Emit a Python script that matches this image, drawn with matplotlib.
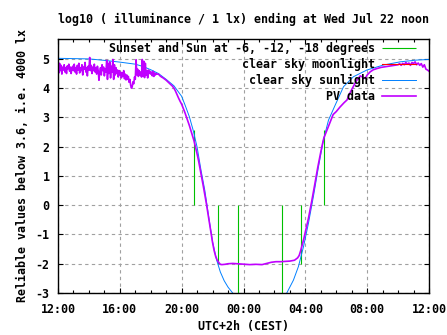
import numpy as np
import matplotlib
matplotlib.use("Agg")
import matplotlib.pyplot as plt
from matplotlib.ticker import MultipleLocator

plt.rcParams['font.family'] = 'DejaVu Sans Mono'
plt.rcParams['font.weight'] = 'bold'
plt.rcParams['font.size'] = 8.4
plt.rcParams['axes.unicode_minus'] = False

# time axis: hours after Tuesday noon
tick_hours = [0, 4, 8, 12, 16, 20, 24]
tick_labels = ['12:00', '16:00', '20:00', '00:00', '04:00', '08:00', '12:00']

# sunset, sun at -6, -12 deg (evening), then -12, -6, sunrise (morning)
sun_hours = [8.80, 10.38, 11.67, 14.46, 15.69, 17.22]
sun_marks = [2.58, -2.0, -3.0, -3.0, -2.0, 2.58]

# no moonlight during this night
moon_hours = []
moon_lux = []

# clear sky sunlight, log10(lx)
clear_hours = [0.0, 1.0, 2.0, 3.0, 4.0, 5.0, 5.5, 6.0, 6.5, 7.0, 7.5, 8.0,
               8.25, 8.5, 8.75, 9.0, 9.25, 9.5, 9.75, 10.0, 10.25, 10.5,
               10.75, 11.0, 11.3, 11.4,
               14.65, 14.8, 15.23, 15.55, 15.88, 16.2, 16.52, 16.85, 17.17,
               17.5, 17.93, 18.47, 19.11, 19.98, 21.05, 22.14, 23.2, 24.0]
clear_lux = [5.02, 5.01, 5.0, 4.95, 4.89, 4.82, 4.74, 4.63, 4.5, 4.3, 4.08, 3.72,
             3.38, 3.02, 2.55, 1.98, 1.2, 0.5, -0.4, -1.25, -1.85, -2.28,
             -2.58, -2.8, -3.0, -3.1,
             -3.1, -3.0, -2.56, -2.1, -1.42, -0.62, 0.29, 1.31, 2.23,
             2.91, 3.42, 4.05, 4.39, 4.62, 4.79, 4.9, 4.96, 4.98]

# photovoltaic sensor, log10(lx); 3-minute samples until 18:25, then sparser
pv_day_lux = [
    4.95, 4.52, 4.85, 4.6, 4.78, 4.48, 4.72, 4.62, 4.8, 4.55,
    4.7, 4.5, 4.76, 4.66, 4.82, 4.58, 4.72, 4.5, 4.68, 4.75,
    4.6, 4.82, 4.55, 4.7, 4.48, 4.78, 4.62, 4.85, 4.52, 4.7,
    4.6, 4.8, 4.45, 4.72, 4.65, 4.88, 4.55, 4.7, 4.42, 4.75,
    4.62, 5.05, 4.6, 4.78, 4.5, 4.72, 4.6, 4.82, 4.55, 4.7,
    4.48, 4.75, 4.6, 4.27, 4.55, 4.7, 4.45, 4.8, 4.6, 4.72,
    4.42, 4.66, 4.55, 4.95, 4.3, 4.85, 4.5, 4.9, 4.35, 4.75,
    4.55, 4.98, 4.3, 4.8, 4.45, 4.7, 4.5, 4.62, 4.38, 4.6,
    4.45, 4.55, 4.35, 4.52, 4.4, 4.6, 4.32, 4.48, 4.28, 4.45,
    4.3, 4.4, 4.2, 4.3, 4.1, 4.0, 4.05, 4.22, 4.15, 4.38,
    4.3, 4.97, 4.45, 4.65, 4.4, 4.6, 4.45, 4.55, 4.38, 4.98,
    4.4, 4.92, 4.36, 4.85, 4.45, 4.6, 4.35, 4.62, 4.5, 4.58,
    4.48, 4.55, 4.42, 4.58, 4.4, 4.52, 4.45, 4.5, 4.48]
pv_day_hours = list(np.round(np.arange(len(pv_day_lux)) * 0.05, 2))

pv_rest_hours = [
    6.5, 6.6, 6.7, 6.8, 6.9, 7.0, 7.1, 7.2, 7.3, 7.4, 7.5, 7.6, 7.7, 7.8, 7.9,
    8.0, 8.1, 8.2, 8.3, 8.4, 8.5, 8.6, 8.7, 8.8, 8.9, 9.0, 9.1, 9.2, 9.3, 9.4,
    9.5, 9.6, 9.7, 9.8, 9.9, 10.0, 10.1, 10.2, 10.3, 10.4, 10.5, 10.6, 10.8,
    11.0, 11.3, 11.6, 12.0, 12.4, 12.8, 13.2, 13.5, 13.8, 14.1, 14.4, 14.7,
    15.0, 15.3, 15.5, 15.6, 15.7, 15.8, 15.9, 16.0, 16.1, 16.2, 16.3, 16.4,
    16.5, 16.6, 16.7, 16.8, 16.9, 17.0, 17.1, 17.2, 17.4, 17.6, 17.8, 18.0,
    18.25, 18.5, 18.7, 18.9, 19.1, 19.3, 19.55, 19.7, 19.87, 20.0, 20.2,
    20.4, 20.63, 20.9, 21.27, 21.6,
    22.0, 22.1, 22.2, 22.3, 22.4, 22.5, 22.6, 22.7, 22.8, 22.9, 23.0, 23.1,
    23.2, 23.3, 23.4, 23.5, 23.6, 23.7, 23.8, 23.9, 24.0]
pv_rest_lux = [
    4.48, 4.42, 4.38, 4.35, 4.31, 4.27, 4.22, 4.17, 4.12, 4.07, 4.0, 3.9,
    3.78, 3.66, 3.55, 3.45, 3.32, 3.18, 3.03, 2.88, 2.72, 2.55, 2.38, 2.2,
    1.98, 1.75, 1.5, 1.22, 0.95, 0.65, 0.35, 0.05, -0.28, -0.6, -0.95, -1.28,
    -1.55, -1.75, -1.88, -1.96, -2.02, -2.03, -2.02, -2.0, -1.99, -2.0, -2.01,
    -2.03, -2.02, -2.03, -1.99, -1.95, -1.93, -1.93, -1.92, -1.91, -1.88,
    -1.8, -1.72, -1.55, -1.35, -1.15, -0.92, -0.7, -0.45, -0.18, 0.1, 0.38,
    0.68, 0.98, 1.28, 1.55, 1.82, 2.07, 2.3, 2.57, 2.85, 3.1, 3.2, 3.36, 3.5,
    3.6, 3.85, 4.05, 4.25, 4.42, 4.38, 4.33, 4.45, 4.56, 4.63, 4.67, 4.71,
    4.74, 4.77,
    4.8, 4.84, 4.78, 4.85, 4.8, 4.88, 4.82, 4.86, 4.78, 4.88, 4.84, 4.9, 4.8,
    4.86, 4.78, 4.84, 4.72, 4.8, 4.65, 4.62, 4.58]

pv_hours = pv_day_hours + pv_rest_hours
pv_lux = pv_day_lux + pv_rest_lux

fig = plt.figure(figsize=(4.47, 3.35), dpi=100)
ax = fig.add_axes([58 / 447, 42 / 335, 371 / 447, 254 / 335])

ax.vlines(sun_hours, 0, sun_marks, color='#00c000', lw=0.8,
          label='Sunset and Sun at -6, -12, -18 degrees')
ax.plot(moon_hours, moon_lux, color='#ff0000', lw=0.8,
        label='clear sky moonlight')
ax.plot(clear_hours, clear_lux, color='#0080ff', lw=0.7,
        label='clear sky sunlight')
ax.plot(pv_hours, pv_lux, color='#c000ff', lw=1.2,
        label='PV data')

ax.set_xlim(0, 24)
ax.set_ylim(-3, 5.68)
ax.set_xticks(tick_hours)
ax.set_xticklabels(tick_labels)
ax.xaxis.set_minor_locator(MultipleLocator(1))
ax.set_yticks(range(-3, 6))
ax.tick_params(which='both', direction='in', top=True, right=True, width=0.8)
ax.tick_params(which='major', length=3.5)
ax.tick_params(which='minor', length=2)
ax.tick_params(axis='x', pad=7)
ax.tick_params(axis='y', pad=6)
for s in ax.spines.values():
    s.set_linewidth(1.0)

ax.grid(True, which='major', color='#a0a0a0', lw=0.8, ls=(0, (3, 3)))
ax.set_axisbelow(True)

ax.legend(loc='upper right', bbox_to_anchor=(0.965, 0.988), frameon=False,
          markerfirst=False, handlelength=2.9, handletextpad=0.6,
          labelspacing=0.25, borderpad=0, borderaxespad=0)

fig.text(243 / 447, 1 - 19 / 335,
         'log10 ( illuminance / 1 lx) ending at Wed Jul 22 noon',
         ha='center', va='center')
fig.text(23 / 447, 1 - 166 / 335, 'Reliable values below 3.6, i.e. 4000 lx',
         rotation=90, ha='center', va='center')
fig.text(243.5 / 447, 1 - 326.5 / 335, 'UTC+2h (CEST)',
         ha='center', va='center')

fig.savefig('out.png', dpi=100)
